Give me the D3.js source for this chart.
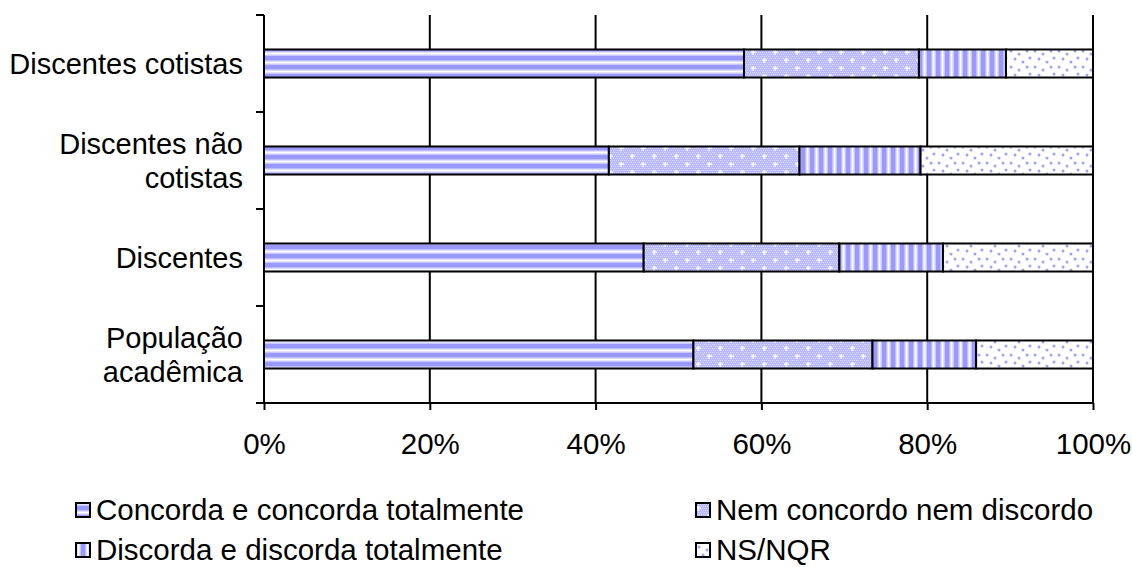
<!DOCTYPE html>
<html>
<head>
<meta charset="utf-8">
<script src="https://cdn.jsdelivr.net/npm/d3@7"></script>
<style>
  html, body { margin: 0; padding: 0; background: #fff; }
  svg { display: block; font-family: "Liberation Sans", Arial, sans-serif; }
</style>
</head>
<body>
<svg id="chart" width="1132" height="567"></svg>
<script>
// Groups, top to bottom (each label may wrap onto two lines)
const categories = ["Discentes cotistas", "Discentes não cotistas", "Discentes", "População acadêmica"];
const categoryLines = [["Discentes cotistas"], ["Discentes não", "cotistas"], ["Discentes"], ["População", "acadêmica"]];

// Response shares (%) per group
const seriesNames = ["Concorda e concorda totalmente", "Nem concordo nem discordo", "Discorda e discorda totalmente", "NS/NQR"];
const concorda = [57.9, 41.6, 45.8, 51.8];
const nemNem   = [21.1, 23.0, 23.6, 21.6];
const discorda = [10.5, 14.6, 12.5, 12.5];
const nsNqr    = [10.5, 20.8, 18.1, 14.1];
const seriesValues = [concorda, nemNem, discorda, nsNqr];

const tickValues = [0, 20, 40, 60, 80, 100];
const tickLabels = ["0%", "20%", "40%", "60%", "80%", "100%"];

const svg = d3.select("#chart");
const margin = { left: 264, right: 1093, top: 15, bottom: 403 };

const x = d3.scaleLinear().domain([0, 100]).range([margin.left, margin.right]);
const y = d3.scaleBand().domain(categories).range([margin.top, margin.bottom]).paddingInner(0.711).paddingOuter(0.3555);

// ---- fill patterns ----
const defs = svg.append("defs");
const BLUE = "#9999ff";

// horizontal stripes
const pH = defs.append("pattern").attr("id", "pat0").attr("patternUnits", "userSpaceOnUse")
  .attr("width", 9).attr("height", 9).attr("y", 2);
pH.append("rect").attr("width", 9).attr("height", 9).attr("fill", "#fff");
pH.append("rect").attr("y", 0).attr("width", 9).attr("height", 4).attr("fill", BLUE);
pH.append("rect").attr("y", 4).attr("width", 9).attr("height", 1.5).attr("fill", "#bdbdff");
pH.append("rect").attr("y", 7.5).attr("width", 9).attr("height", 1.5).attr("fill", "#c8c8ff");

// fine checker with white crosses
const pC = defs.append("pattern").attr("id", "pat1").attr("patternUnits", "userSpaceOnUse")
  .attr("width", 22).attr("height", 16);
pC.append("rect").attr("width", 22).attr("height", 16).attr("fill", "#b8b8ff");
for (let i = 0; i < 22; i += 2) {
  for (let j = 0; j < 16; j += 2) {
    pC.append("rect").attr("x", i + ((j / 2) % 2)).attr("y", j).attr("width", 1).attr("height", 1).attr("fill", "#dcdcff");
  }
}
[[5, 4], [16, 12]].forEach(([cx, cy]) => {
  pC.append("rect").attr("x", cx - 2).attr("y", cy - 0.6).attr("width", 5).attr("height", 1.4).attr("fill", "#fff");
  pC.append("rect").attr("x", cx - 0.6).attr("y", cy - 2).attr("width", 1.4).attr("height", 5).attr("fill", "#fff");
});

// vertical stripes
const pV = defs.append("pattern").attr("id", "pat2").attr("patternUnits", "userSpaceOnUse")
  .attr("width", 9).attr("height", 9);
pV.append("rect").attr("width", 9).attr("height", 9).attr("fill", "#fff");
pV.append("rect").attr("x", 0).attr("width", 4).attr("height", 9).attr("fill", BLUE);
pV.append("rect").attr("x", 4).attr("width", 1.5).attr("height", 9).attr("fill", "#bdbdff");
pV.append("rect").attr("x", 7.5).attr("width", 1.5).attr("height", 9).attr("fill", "#c8c8ff");

// scattered dots
const pD = defs.append("pattern").attr("id", "pat3").attr("patternUnits", "userSpaceOnUse")
  .attr("width", 24).attr("height", 16);
pD.append("rect").attr("width", 24).attr("height", 16).attr("fill", "#fff");
[[2, 2], [10, 5], [18, 2], [6, 10], [14, 13], [21, 9]].forEach(([dx, dy]) => {
  pD.append("circle").attr("cx", dx + 1).attr("cy", dy + 1).attr("r", 1.5).attr("fill", "#a0a0ff");
});

// ---- gridlines ----
svg.append("g").selectAll("line").data(tickValues.slice(1)).join("line")
  .attr("x1", d => x(d)).attr("x2", d => x(d))
  .attr("y1", margin.top).attr("y2", margin.bottom)
  .attr("stroke", "#000").attr("stroke-width", 2);

// ---- stacked bars ----
const rows = categories.map((c, i) => {
  let acc = 0;
  return seriesValues.map((s, k) => {
    const seg = { cat: c, k, x0: acc, x1: acc + s[i] };
    acc += s[i];
    return seg;
  });
}).flat();

svg.append("g").selectAll("rect").data(rows).join("rect")
  .attr("x", d => x(d.x0))
  .attr("width", d => x(d.x1) - x(d.x0))
  .attr("y", d => y(d.cat))
  .attr("height", y.bandwidth())
  .attr("fill", d => `url(#pat${d.k})`)
  .attr("stroke", "#000").attr("stroke-width", 2);

// ---- axes ----
const xAxis = d3.axisBottom(x).tickValues(tickValues).tickFormat((d, i) => tickLabels[i]).tickSize(7).tickPadding(23);
const gx = svg.append("g").attr("transform", `translate(0,${margin.bottom})`).call(xAxis);
gx.select(".domain").attr("d", `M${margin.left - 8},0H${margin.right}`).attr("stroke-width", 2);
gx.selectAll(".tick line").attr("stroke-width", 2);
gx.selectAll(".tick text").attr("font-size", 29.5).attr("fill", "#000")
  .style("font-family", '"Liberation Sans", Arial, sans-serif');

// y axis: line with ticks between groups
const yTicks = d3.range(categories.length + 1).map(i => margin.top + i * (margin.bottom - margin.top) / categories.length);
svg.append("line").attr("x1", margin.left).attr("x2", margin.left)
  .attr("y1", margin.top).attr("y2", margin.bottom).attr("stroke", "#000").attr("stroke-width", 2);
svg.append("g").selectAll("line").data(yTicks).join("line")
  .attr("x1", margin.left - 8).attr("x2", margin.left)
  .attr("y1", d => d).attr("y2", d => d).attr("stroke", "#000").attr("stroke-width", 2);

// group labels
const labelG = svg.append("g").attr("font-size", 29).attr("text-anchor", "end");
categories.forEach((c, i) => {
  const lines = categoryLines[i];
  const cy = y(c) + y.bandwidth() / 2;
  const lh = 34;
  lines.forEach((t, j) => {
    labelG.append("text").attr("x", 243)
      .attr("y", cy + (j - (lines.length - 1) / 2) * lh)
      .attr("dy", "0.35em").text(t);
  });
});

// ---- legend ----
const legendPos = [[76, 510], [696, 510], [76, 550], [696, 550]];
const legend = svg.append("g");
seriesNames.forEach((name, k) => {
  const [lx, ly] = legendPos[k];
  legend.append("rect").attr("x", lx).attr("y", ly - 7).attr("width", 14).attr("height", 14)
    .attr("fill", `url(#pat${k})`).attr("stroke", "#000").attr("stroke-width", 2);
  legend.append("text").attr("x", lx + 20).attr("y", ly).attr("dy", "0.35em")
    .attr("font-size", 29.5).text(name);
});
</script>
</body>
</html>
